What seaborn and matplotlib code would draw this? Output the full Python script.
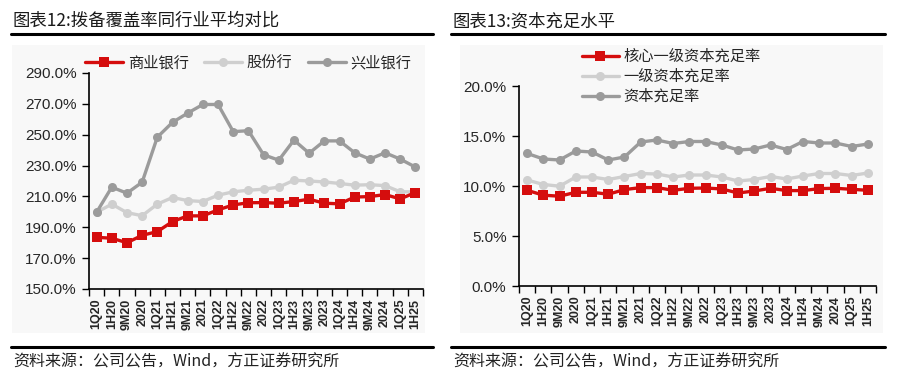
import numpy as np
import pandas as pd
import matplotlib
matplotlib.use("Agg")
import matplotlib.pyplot as plt
import seaborn as sns
from matplotlib.lines import Line2D
from matplotlib.patches import Rectangle

periods = ["1Q20", "1H20", "9M20", "2020", "1Q21", "1H21", "9M21", "2021",
           "1Q22", "1H22", "9M22", "2022", "1Q23", "1H23", "9M23", "2023",
           "1Q24", "1H24", "9M24", "2024", "1Q25", "1H25"]

# 拨备覆盖率 (%)
cov_commercial = [183.5, 182.9, 180.0, 184.8, 187.2, 193.7, 197.4, 197.4, 201.3, 204.5, 205.9, 206.0,
                  205.6, 206.7, 208.2, 205.6, 205.2, 209.6, 209.9, 211.2, 208.4, 212.5]
cov_joint = [199.7, 205.0, 199.5, 197.5, 205.0, 209.3, 207.3, 206.7, 210.8, 213.0, 214.0, 214.7,
             216.0, 220.5, 220.0, 219.4, 218.4, 217.3, 217.6, 217.0, 213.0, 213.0]
cov_cib = [199.7, 216.0, 212.1, 219.2, 248.4, 258.0, 264.0, 269.6, 269.6, 252.0, 252.6, 237.0,
           233.5, 246.5, 238.0, 246.0, 246.0, 238.3, 234.2, 238.3, 234.2, 229.0]
cov_labels = ["商业银行", "股份行", "兴业银行"]
cov_ticks = [150, 170, 190, 210, 230, 250, 270, 290]

# 资本充足水平 (%)
cet1_ratio = [9.57, 9.08, 8.98, 9.37, 9.37, 9.18, 9.64, 9.84, 9.84, 9.57, 9.77, 9.80,
              9.70, 9.30, 9.50, 9.77, 9.54, 9.54, 9.74, 9.77, 9.67, 9.57]
tier1_ratio = [10.60, 10.15, 9.98, 10.90, 10.90, 10.65, 10.95, 11.25, 11.20, 10.90, 11.10, 11.10,
               10.90, 10.50, 10.65, 10.95, 10.70, 11.00, 11.25, 11.25, 11.05, 11.30]
car_ratio = [13.26, 12.70, 12.60, 13.50, 13.40, 12.60, 12.90, 14.40, 14.60, 14.25, 14.45, 14.45,
             14.10, 13.60, 13.70, 14.10, 13.65, 14.45, 14.30, 14.30, 13.95, 14.20]
cap_labels = ["核心一级资本充足率", "一级资本充足率", "资本充足率"]
cap_ticks = [0, 5, 10, 15, 20]

RED = "#d50d0d"
LIGHT = "#cfcfcf"
DARK = "#9b9b9b"

sns.set_theme(style="white")
plt.rcParams["font.family"] = ["Noto Sans CJK SC", "DejaVu Sans"]
plt.rcParams["axes.unicode_minus"] = False

W, H = 916, 392
fig = plt.figure(figsize=(W / 100, H / 100), dpi=100)


def fx(px):
    return px / W


def fy(py):
    return 1 - py / H


# light background panels
fig.add_artist(Rectangle((fx(12), fy(333)), fx(413), fy(45) - fy(333),
                         transform=fig.transFigure, color="#f8f8f8", zorder=0, lw=0))
fig.add_artist(Rectangle((fx(460), fy(333)), fx(423), fy(45) - fy(333),
                         transform=fig.transFigure, color="#f8f8f8", zorder=0, lw=0))

# header / footer rules
for x0, x1 in [(11, 433), (451, 885)]:
    fig.add_artist(Line2D([fx(x0), fx(x1)], [fy(33.5), fy(33.5)], color="black", lw=2.2,
                          transform=fig.transFigure))
    fig.add_artist(Line2D([fx(x0), fx(x1)], [fy(347), fy(347)], color="black", lw=2.2,
                          transform=fig.transFigure))

fig.text(fx(13), fy(21), "图表12:拨备覆盖率同行业平均对比", fontsize=12.5, va="center", ha="left",
         color="#1a1a1a")
fig.text(fx(453), fy(21), "图表13:资本充足水平", fontsize=12.5, va="center", ha="left",
         color="#1a1a1a")
for x in (13, 453):
    fig.text(fx(x), fy(362), "资料来源：公司公告，Wind，方正证券研究所", fontsize=11.5,
             va="center", ha="left", style="italic", color="#222222")

ax1 = fig.add_axes([fx(89), fy(289), fx(423) - fx(89), fy(73) - fy(289)])
ax2 = fig.add_axes([fx(519), fy(286), fx(876) - fx(519), fy(86) - fy(286)])
for ax in (ax1, ax2):
    ax.patch.set_alpha(0)

df1 = pd.DataFrame({"period": periods, cov_labels[0]: cov_commercial,
                    cov_labels[1]: cov_joint, cov_labels[2]: cov_cib})
df2 = pd.DataFrame({"period": periods, cap_labels[0]: cet1_ratio,
                    cap_labels[1]: tier1_ratio, cap_labels[2]: car_ratio})

styles1 = [(cov_labels[0], RED, "s", 7.5, 3), (cov_labels[1], LIGHT, "o", 6.5, 1), (cov_labels[2], DARK, "o", 6.5, 2)]
for lab, col, mk, ms, z in styles1:
    sns.lineplot(data=df1, x="period", y=lab, ax=ax1, color=col, marker=mk, markersize=ms,
                 markeredgecolor=col, markeredgewidth=0, linewidth=2.4, label=lab, sort=False, zorder=z)

styles2 = [(cap_labels[0], RED, "s", 7.5, 3), (cap_labels[1], LIGHT, "o", 6.5, 1), (cap_labels[2], DARK, "o", 6.5, 2)]
for lab, col, mk, ms, z in styles2:
    sns.lineplot(data=df2, x="period", y=lab, ax=ax2, color=col, marker=mk, markersize=ms,
                 markeredgecolor=col, markeredgewidth=0, linewidth=2.4, label=lab, sort=False, zorder=z)

n = len(periods)
for ax, ticks, lo, hi in [(ax1, cov_ticks, 150, 290), (ax2, cap_ticks, 0, 20)]:
    ax.set_xlim(-0.5, n - 0.5)
    ax.set_ylim(lo, hi)
    ax.set_yticks(ticks)
    ax.set_yticklabels([f"{t:.1f}%" for t in ticks], fontsize=11, family="Liberation Sans")
    ax.set_xticks(range(n))
    ax.set_xticklabels(periods, rotation=90, fontsize=9, family="Liberation Sans", fontweight="bold")
    ax.set_xticks(np.arange(-0.5, n, 1), minor=True)
    ax.tick_params(axis="x", which="major", length=0, pad=7)
    ax.tick_params(axis="x", which="minor", length=5, width=1, color="black", direction="out")
    ax.tick_params(axis="y", which="major", length=5, width=1, color="black", direction="out", pad=4)
    ax.tick_params(bottom=True, left=True, which="both")
    ax.set_xlabel("")
    ax.set_ylabel("")
    for s in ("top", "right"):
        ax.spines[s].set_visible(False)
    for s in ("left", "bottom"):
        ax.spines[s].set_color("black")
        ax.spines[s].set_linewidth(1.2)
    ax.grid(False)

ax1.legend(loc="center left", bbox_to_anchor=(fx(85), fy(63)), bbox_transform=fig.transFigure,
           ncol=3, frameon=False, fontsize=11, handlelength=2.5, handletextpad=0.3,
           columnspacing=1.0, borderpad=0, borderaxespad=0)
ax2.legend(loc="center left", bbox_to_anchor=(fx(582), fy(76.5)), bbox_transform=fig.transFigure,
           ncol=1, frameon=False, fontsize=11, handlelength=2.4, handletextpad=0.3,
           labelspacing=0.2, borderpad=0, borderaxespad=0)

fig.savefig("out.png", dpi=100)
